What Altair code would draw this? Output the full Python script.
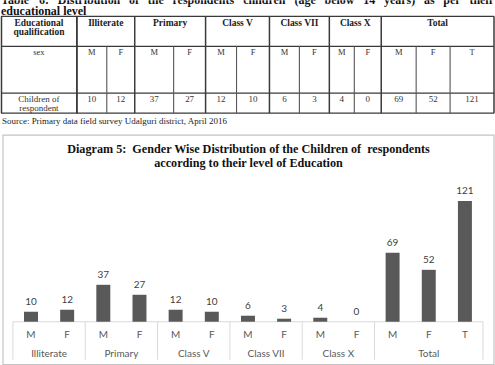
import altair as alt
import pandas as pd

# ---------------------------------------------------------------------------
# Survey counts: children of respondents by education level and sex
# ---------------------------------------------------------------------------
levels = ["Illiterate", "Primary", "Class V", "Class VII", "Class X", "Total"]
sex_codes = [["M", "F"], ["M", "F"], ["M", "F"], ["M", "F"], ["M", "F"], ["M", "F", "T"]]
children = [[10, 12], [37, 27], [12, 10], [6, 3], [4, 0], [69, 52, 121]]

caption_line1 = "Table 6: Distribution of the respondents children (age below 14 years) as per their"
caption_line2 = "educational level"
row_head = ["Educational", "qualification"]
sex_head = "sex"
count_head = ["Children of", "respondent"]
source_note = "Source: Primary data field survey Udalguri district, April 2016"
diagram_title = [
    "Diagram 5:\u00a0 Gender Wise Distribution of the Children of\u00a0 respondents",
    "according to their level of Education",
]

# ---------------------------------------------------------------------------
# Table panel (scales map one unit to one pixel)
# ---------------------------------------------------------------------------
PANEL_W = 495
TABLE_H = 125
col_edges = [0, 76, 106, 134, 173, 205, 236, 269, 299, 329, 354, 381, 416, 450, 494]
row_edges = [16, 46, 93, 113]
SERIF = "Liberation Serif"
LINE = "#3a3a3a"

group_sizes = [len(s) for s in sex_codes]
group_starts = [sum(group_sizes[:i]) for i in range(len(group_sizes))]
flat_sex = [s for ss in sex_codes for s in ss]
flat_cnt = [v for vs in children for v in vs]


def col_center(j):
    return (col_edges[j + 1] + col_edges[j + 2]) / 2


# Approximate advance widths (em) of a bold Times-style face, used to justify
# the caption line across the table width.
BOLD_W = {
    "T": .667, "a": .5, "b": .556, "l": .278, "e": .444, "6": .5, ":": .333,
    "D": .722, "i": .278, "s": .389, "t": .333, "r": .444, "u": .556, "o": .5,
    "n": .556, "f": .333, "h": .556, "p": .556, "d": .556, "c": .444, "(": .333,
    "g": .5, "w": .722, "1": .5, "4": .5, "y": .5, ")": .333,
}
CAP_SIZE = 12
words = caption_line1.split(" ")
widths = [sum(BOLD_W.get(c, .5) for c in w) * CAP_SIZE for w in words]
gap = (col_edges[-1] - sum(widths)) / (len(words) - 1)
word_x, cur = [], 0.0
for w in widths:
    word_x.append(cur)
    cur += w + gap
caption_df = pd.DataFrame({"x": word_x, "y": [3.5] * len(words), "t": words})

tx = alt.Scale(domain=[0, PANEL_W], nice=False, zero=False)
ty = alt.Scale(domain=[0, TABLE_H], nice=False, zero=False, reverse=True)


def X(f):
    return alt.X(f, type="quantitative", scale=tx, axis=None)


def Y(f):
    return alt.Y(f, type="quantitative", scale=ty, axis=None)


# grid lines
h_lines = pd.DataFrame({"x": [col_edges[0]] * len(row_edges),
                        "x2": [col_edges[-1]] * len(row_edges), "y": row_edges})
outer_x = [col_edges[0] + 0.5, col_edges[1]] + [col_edges[s + 1] for s in group_starts] + [col_edges[-1]]
outer_v = pd.DataFrame({"x": outer_x, "y": [row_edges[0]] * len(outer_x),
                        "y2": [row_edges[-1]] * len(outer_x)})
inner_x = [col_edges[s + 1 + k] for s, n in zip(group_starts, group_sizes) for k in range(1, n)]
inner_v = pd.DataFrame({"x": inner_x, "y": [row_edges[1]] * len(inner_x),
                        "y2": [row_edges[-1]] * len(inner_x)})

# cell texts
head_bold = pd.DataFrame({
    "x": [col_edges[1] / 2, col_edges[1] / 2]
         + [(col_edges[s + 1] + col_edges[s + n + 1]) / 2 for s, n in zip(group_starts, group_sizes)],
    "y": [23, 32] + [22.5] * len(levels),
    "t": row_head + levels,
})
sex_row = pd.DataFrame({
    "x": [col_edges[1] / 2] + [col_center(j) for j in range(len(flat_sex))],
    "y": [52] * (len(flat_sex) + 1),
    "t": [sex_head] + flat_sex,
})
cnt_row = pd.DataFrame({
    "x": [col_edges[1] / 2, col_edges[1] / 2] + [col_center(j) for j in range(len(flat_cnt))],
    "y": [98.5, 108] + [99] * len(flat_cnt),
    "t": count_head + [str(v) for v in flat_cnt],
})
caption2_df = pd.DataFrame({"x": [0], "y": [15], "t": [caption_line2]})
source_df = pd.DataFrame({"x": [1], "y": [120.5], "t": [source_note]})

table = alt.layer(
    alt.Chart(h_lines).mark_rule(color=LINE, strokeWidth=1.3).encode(x=X("x"), x2="x2", y=Y("y")),
    alt.Chart(outer_v).mark_rule(color=LINE, strokeWidth=1.5).encode(x=X("x"), y=Y("y"), y2="y2"),
    alt.Chart(inner_v).mark_rule(color="#555555", strokeWidth=1.1).encode(x=X("x"), y=Y("y"), y2="y2"),
    alt.Chart(caption_df).mark_text(
        font=SERIF, fontWeight="bold", fontSize=CAP_SIZE, align="left",
        baseline="alphabetic", color="#111111", clip=True,
    ).encode(x=X("x"), y=Y("y"), text="t:N"),
    alt.Chart(caption2_df).mark_text(
        font=SERIF, fontWeight="bold", fontSize=CAP_SIZE, align="left",
        baseline="alphabetic", color="#111111",
    ).encode(x=X("x"), y=Y("y"), text="t:N"),
    alt.Chart(source_df).mark_text(
        font=SERIF, fontSize=9, align="left", baseline="middle", color="#222222",
    ).encode(x=X("x"), y=Y("y"), text="t:N"),
    alt.Chart(head_bold).mark_text(
        font=SERIF, fontWeight="bold", fontSize=9.5, baseline="middle", color="#222222",
    ).encode(x=X("x"), y=Y("y"), text="t:N"),
    alt.Chart(sex_row).mark_text(
        font=SERIF, fontSize=8.5, baseline="middle", color="#333333",
    ).encode(x=X("x"), y=Y("y"), text="t:N"),
    alt.Chart(cnt_row).mark_text(
        font=SERIF, fontSize=9, baseline="middle", color="#333333",
    ).encode(x=X("x"), y=Y("y"), text="t:N"),
).properties(width=PANEL_W, height=TABLE_H)

# ---------------------------------------------------------------------------
# Bar chart panel (y in counts; the category axis sits at count 0)
# ---------------------------------------------------------------------------
keys = [f"{lv}|{s}" for lv, ss in zip(levels, sex_codes) for s in ss]
bars_df = pd.DataFrame({"key": keys, "count": flat_cnt, "sex": flat_sex,
                        "y": [-13] * len(keys)})

DIV_DEPTH = -38   # divider lines run below the axis line, in count units
LABEL_ROW = -32
div_start = pd.DataFrame({"key": [keys[s] for s in group_starts],
                          "y0": [0] * len(group_starts), "y1": [DIV_DEPTH] * len(group_starts)})
div_end = pd.DataFrame({"key": [keys[-1]], "y0": [0], "y1": [DIV_DEPTH]})
axis_line = pd.DataFrame({"key": keys, "y0": [0.5] * len(keys), "y1": [-0.5] * len(keys)})
grp = pd.DataFrame({
    "label": levels,
    "key": [keys[s + n // 2] for s, n in zip(group_starts, group_sizes)],
    "odd": [n % 2 for n in group_sizes],
    "y": [LABEL_ROW] * len(levels),
})
grp_even_df = grp[grp["odd"] == 0]
grp_odd_df = grp[grp["odd"] == 1]

CHART_W, CHART_H = 494, 230
FRAME_LEFT = 2
SANS = "Lato"
GRID = "#d9d9d9"
LABEL = "#595959"
xs = alt.Scale(domain=keys, paddingInner=0, paddingOuter=0.317, align=0.52)
ys = alt.Scale(domain=[-43, 187], nice=False)


def KX(band=None):
    if band is None:
        return alt.X("key:N", scale=xs, axis=None)
    return alt.X("key:N", scale=xs, axis=None, bandPosition=band)


def CY(f):
    return alt.Y(f, type="quantitative", scale=ys, axis=None)


frame = alt.Chart(pd.DataFrame({"row": [0]})).mark_rect(
    fillOpacity=0, stroke="#c4c4c4", strokeWidth=1.2,
).encode(x=alt.value(FRAME_LEFT), x2=alt.value(CHART_W), y=alt.value(0), y2=alt.value(CHART_H))

base_line = alt.Chart(axis_line).mark_rect(color=GRID).encode(x=KX(), y=CY("y0"), y2="y1")
bars = alt.Chart(bars_df).mark_bar(width=14, color="#595959").encode(x=KX(), y=CY("count"))
values = alt.Chart(bars_df).mark_text(
    baseline="bottom", dy=-5, font=SANS, fontSize=10, color="#404040",
).encode(x=KX(), y=CY("count"), text=alt.Text("count:Q"))
sex_labels = alt.Chart(bars_df).mark_text(
    baseline="middle", font=SANS, fontSize=10, color=LABEL,
).encode(x=KX(), y=CY("y"), text="sex:N")
dividers = alt.Chart(div_start).mark_rule(color=GRID, strokeWidth=1).encode(
    x=KX(0), y=CY("y0"), y2="y1")
divider_end = alt.Chart(div_end).mark_rule(color=GRID, strokeWidth=1).encode(
    x=KX(1), y=CY("y0"), y2="y1")
grp_even = alt.Chart(grp_even_df).mark_text(
    font=SANS, fontSize=10, color=LABEL, baseline="middle",
).encode(x=KX(0), y=CY("y"), text="label:N")
grp_odd = alt.Chart(grp_odd_df).mark_text(
    font=SANS, fontSize=10, color=LABEL, baseline="middle",
).encode(x=KX(0.5), y=CY("y"), text="label:N")
heading = alt.Chart(pd.DataFrame({"t": ["\n".join(diagram_title)]})).mark_text(
    font=SERIF, fontWeight="bold", fontSize=12.2, lineHeight=14, lineBreak="\n",
    baseline="top", align="center", color="#111111",
).encode(x=alt.value((FRAME_LEFT + CHART_W) / 2), y=alt.value(8), text="t:N")

chart = alt.layer(
    frame, base_line, dividers, divider_end, bars, values, sex_labels,
    grp_even, grp_odd, heading,
).properties(width=CHART_W, height=CHART_H)

page = alt.vconcat(table, chart, spacing=8).properties(
    padding=0, background="white",
).configure_view(strokeWidth=0)

page.save("out.html", embed_options={"renderer": "svg", "actions": False})
